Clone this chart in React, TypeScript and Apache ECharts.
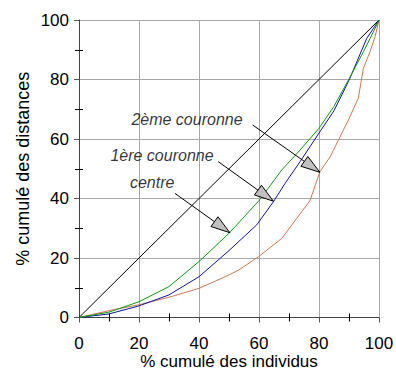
import React, { useEffect, useRef } from "react";
import * as echarts from "echarts";

const FONT = "'Liberation Sans', Arial, sans-serif";

const equality: [number, number][] = [[0, 0], [100, 100]];

const centre: [number, number][] = [
  [0, 0], [10, 1.8], [20, 5.3], [30, 10.4], [40, 18.8], [50, 28.3], [60, 39.3],
  [67.6, 49.6], [73.7, 56.3], [80, 63.6], [85, 71], [89.8, 79.8], [94.8, 89.3],
  [98.7, 97.2], [100, 100],
];

const couronne1: [number, number][] = [
  [0, 0], [10, 1.2], [20, 3.9], [30, 7.6], [40, 13.7], [50, 22.5], [59.2, 31.1],
  [64.8, 38.9], [68.7, 45.1], [73.7, 52.4], [80, 62], [85, 69.5], [90.3, 80.4],
  [95.9, 93.8], [100, 100],
];

const couronne2: [number, number][] = [
  [0, 0], [10, 2.3], [20, 4.3], [30, 6.8], [40, 9.8], [50, 14.3], [53.3, 16],
  [59.8, 20.4], [67.6, 26.6], [77, 39.3], [80.3, 49], [83.7, 54], [89.8, 66.4],
  [93.1, 73.7], [94.8, 83.8], [97, 89.3], [98.7, 94.4], [100, 100],
];

// annotation arrows: [x start, y start, x tip, y tip]
const arrows: [number, number, number, number][] = [
  [32, 41.7, 50.3, 28.5],
  [46.4, 52.4, 64.8, 39.1],
  [57.9, 64.7, 80.3, 48.8],
];

const labelNames = ["centre", "1ère couronne", "2ème couronne"];
const labelPos: [number, number][] = [
  [16.8, 45.4],
  [10.3, 54.6],
  [17.3, 66.7],
];

export default function App() {
  const ref = useRef<HTMLDivElement>(null);
  useEffect(() => {
    if (!ref.current) return;
    const chart = echarts.init(ref.current, null, { renderer: "svg" });
    const baseAxis = {
      type: "value" as const,
      min: 0,
      max: 100,
      interval: 20,
    };
    const mainAxis = {
      ...baseAxis,
      axisLine: { show: true, lineStyle: { color: "#444", width: 1 } },
      axisTick: { show: true, length: 5, lineStyle: { color: "#555" } },
      minorTick: { show: true, splitNumber: 2, length: 4, lineStyle: { color: "#000" } },
      splitLine: { show: true, lineStyle: { color: "#a8a8a8", width: 1 } },
      axisLabel: { color: "#000", fontSize: 17, fontFamily: FONT },
      nameLocation: "middle" as const,
      nameMoveOverlap: false,
      nameTextStyle: { color: "#000", fontSize: 18, lineHeight: 18, fontFamily: FONT },
    };
    const innerAxis = {
      ...baseAxis,
      axisLine: { show: false },
      axisTick: { show: false, inside: true },
      minorTick: { show: true, splitNumber: 2, length: 4, lineStyle: { color: "#000" } },
      splitLine: { show: false },
      axisLabel: { show: false },
    };
    chart.setOption({
      animation: false,
      grid: {
        left: 79,
        right: 17,
        top: 20,
        bottom: 53.5,
        containLabel: false,
        outerBoundsMode: "none",
      },
      xAxis: [
        {
          ...mainAxis,
          position: "bottom",
          name: "% cumulé des individus",
          nameGap: 35,
          nameTextStyle: { color: "#000", fontSize: 17, lineHeight: 17, fontFamily: FONT },
          axisLabel: { ...mainAxis.axisLabel, margin: 17 },
        },
        { ...innerAxis, position: "bottom" },
      ],
      yAxis: [
        {
          ...mainAxis,
          position: "left",
          name: "% cumulé des distances",
          nameGap: 47,
          axisLabel: { ...mainAxis.axisLabel, margin: 10 },
        },
        { ...innerAxis, position: "left" },
      ],
      series: [
        {
          type: "line",
          data: equality,
          symbol: "none",
          lineStyle: { color: "#000", width: 1 },
          silent: true,
        },
        {
          type: "line",
          data: couronne2,
          symbol: "none",
          lineStyle: { color: "#c8784e", width: 1 },
          silent: true,
        },
        {
          type: "line",
          data: couronne1,
          symbol: "none",
          lineStyle: { color: "#1010a0", width: 1 },
          silent: true,
        },
        {
          type: "line",
          data: centre,
          symbol: "none",
          lineStyle: { color: "#119911", width: 1 },
          silent: true,
        },
        {
          type: "custom",
          silent: true,
          encode: { x: [0, 2], y: [1, 3] },
          data: arrows,
          z: 10,
          renderItem: (params: any, api: any) => {
            const p1 = api.coord([api.value(0), api.value(1)]);
            const p2 = api.coord([api.value(2), api.value(3)]);
            const dx = p2[0] - p1[0];
            const dy = p2[1] - p1[1];
            const len = Math.hypot(dx, dy);
            const ux = dx / len;
            const uy = dy / len;
            const bx = p2[0] - ux * 19;
            const by = p2[1] - uy * 19;
            const nx = -uy;
            const ny = ux;
            return {
              type: "group",
              children: [
                {
                  type: "line",
                  shape: { x1: p1[0], y1: p1[1], x2: p2[0], y2: p2[1] },
                  style: { stroke: "#000", lineWidth: 1 },
                },
                {
                  type: "polygon",
                  shape: {
                    points: [
                      [p2[0], p2[1]],
                      [bx + nx * 6, by + ny * 6],
                      [bx - nx * 6, by - ny * 6],
                    ],
                  },
                  style: { fill: "#c0c0c0", stroke: "#000", lineWidth: 1 },
                },
              ],
            };
          },
        },
        {
          type: "scatter",
          silent: true,
          symbolSize: 1,
          itemStyle: { color: "rgba(0,0,0,0)" },
          z: 11,
          data: labelPos.map((p, i) => ({ value: p, name: labelNames[i] })),
          label: {
            show: true,
            position: "right",
            distance: 0,
            formatter: (p: any) => p.name,
            color: "#000",
            fontSize: 16,
            fontStyle: "italic",
            fontFamily: FONT,
          },
        },
      ],
    });
    return () => chart.dispose();
  }, []);
  return <div ref={ref} style={{ width: 396, height: 371, position: "absolute", left: 0, top: 0 }} />;
}
